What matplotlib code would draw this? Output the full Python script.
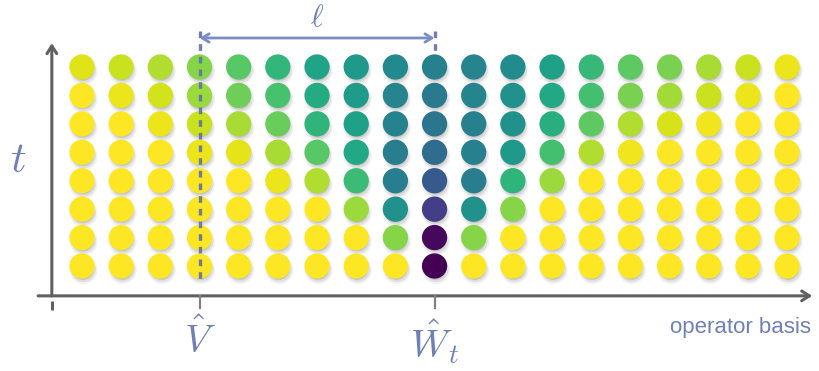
import matplotlib
matplotlib.use('Agg')
import matplotlib.pyplot as plt
import numpy as np
from matplotlib.transforms import offset_copy

plt.rcParams['mathtext.fontset'] = 'cm'

# ---- data -------------------------------------------------------------
operator_index = list(range(19))   # operator basis positions (columns)
time_steps = list(range(8))        # time rows, bottom (0) to top (7)
source_col = 3                     # position of V
probe_col = 9                      # position of W_t

# viridis fraction per cell (0 = dark purple, 1 = yellow), one list per time row
t0 = [1.00, 1.00, 1.00, 1.00, 1.00, 1.00, 1.00, 1.00, 1.00, 0.00, 1.00, 1.00, 1.00, 1.00, 1.00, 1.00, 1.00, 1.00, 1.00]
t1 = [1.00, 1.00, 1.00, 1.00, 1.00, 1.00, 1.00, 1.00, 0.82, 0.02, 0.82, 1.00, 1.00, 1.00, 1.00, 1.00, 1.00, 1.00, 1.00]
t2 = [1.00, 1.00, 1.00, 1.00, 1.00, 1.00, 1.00, 0.85, 0.50, 0.18, 0.50, 0.82, 1.00, 1.00, 1.00, 1.00, 1.00, 1.00, 1.00]
t3 = [1.00, 1.00, 1.00, 1.00, 1.00, 0.97, 0.88, 0.68, 0.42, 0.28, 0.42, 0.65, 0.85, 1.00, 1.00, 1.00, 1.00, 1.00, 1.00]
t4 = [1.00, 1.00, 1.00, 0.97, 0.96, 0.87, 0.74, 0.60, 0.42, 0.35, 0.43, 0.54, 0.70, 0.88, 0.98, 1.00, 1.00, 1.00, 1.00]
t5 = [1.00, 1.00, 0.97, 0.92, 0.87, 0.77, 0.65, 0.57, 0.44, 0.39, 0.43, 0.50, 0.63, 0.75, 0.88, 0.94, 0.98, 1.00, 1.00]
t6 = [1.00, 0.97, 0.93, 0.85, 0.78, 0.71, 0.61, 0.55, 0.45, 0.41, 0.45, 0.50, 0.60, 0.70, 0.80, 0.86, 0.92, 0.97, 1.00]
t7 = [0.95, 0.92, 0.88, 0.82, 0.74, 0.66, 0.58, 0.54, 0.47, 0.43, 0.45, 0.48, 0.57, 0.67, 0.75, 0.80, 0.87, 0.92, 0.97]
rows = [t0, t1, t2, t3, t4, t5, t6, t7]

tick_labels = [r'$\hat{V}$', r'$\hat{W}_t$']
x_label = 'operator basis'
y_label = r'$t$'
ell_label = r'$\ell$'

# ---- figure -----------------------------------------------------------
fig = plt.figure(figsize=(8.2, 3.71), dpi=100)
fig.patch.set_facecolor('white')
ax = fig.add_axes([0, 0, 1, 1])
ax.set_xlim(-2.093, 18.84)
ax.set_ylim(-3.693, 9.356)
ax.axis('off')

X, Y = np.meshgrid(operator_index, time_steps)
V = np.array(rows)

# soft drop shadows
for dx, dy, sz, a in [(1.5, -4.0, 28, 0.05), (1.5, -3.5, 25, 0.08), (1.0, -3.0, 22, 0.10),
                      (1.0, -2.5, 20, 0.10)]:
    tr = offset_copy(ax.transData, fig=fig, x=dx, y=dy, units='dots')
    ax.scatter(X.ravel(), Y.ravel(), s=sz ** 2 * 0.52, color='black', alpha=a,
               edgecolors='none', transform=tr, zorder=1)

ax.scatter(X.ravel(), Y.ravel(), c=V.ravel(), cmap='viridis', vmin=0, vmax=1,
           s=18.2 ** 2, edgecolors='none', zorder=2)

axis_col = '#606060'
blue = '#6f80b6'

# x axis
ax.annotate('', xy=(18.64, -1.05), xytext=(-1.12, -1.05),
            arrowprops=dict(arrowstyle='->,head_length=0.55,head_width=0.35',
                            color=axis_col, lw=2.2, shrinkA=0, shrinkB=0), zorder=3)
# y axis
ax.annotate('', xy=(-0.77, 7.84), xytext=(-0.77, -1.05),
            arrowprops=dict(arrowstyle='->,head_length=0.55,head_width=0.35',
                            color=axis_col, lw=2.2, shrinkA=0, shrinkB=0), zorder=3)
ax.plot([-0.77, -0.77], [-1.22, -1.55], color=axis_col, lw=2.2, solid_capstyle='butt', zorder=3)

# ticks
for c in (source_col, probe_col):
    ax.plot([c, c], [-1.05, -1.48], color='#808080', lw=1.6, zorder=3)

# dashed guide lines
ax.plot([source_col, source_col], [8.25, -0.62], color='#5f71a8', lw=2.4,
        linestyle=(0, (2.0, 1.8)), alpha=0.9, zorder=4)
ax.plot([probe_col, probe_col], [8.25, 7.55], color='#5f71a8', lw=2.4,
        linestyle=(0, (2.0, 1.8)), alpha=0.9, zorder=4)

# ell arrow
ax.annotate('', xy=(probe_col, 8.02), xytext=(source_col, 8.02),
            arrowprops=dict(arrowstyle='<->,head_length=0.5,head_width=0.3',
                            color='#7b8dc3', lw=2.0, shrinkA=0, shrinkB=0), zorder=4)
ax.text((source_col + probe_col) / 2, 8.72, ell_label, fontsize=22, color=blue,
        ha='center', va='center')

# labels
ax.text(-1.63, 3.73, y_label, fontsize=31, color=blue, ha='center', va='center')
ax.text(source_col, -2.6, tick_labels[0], fontsize=28, color=blue, ha='center', va='center')
ax.text(probe_col, -2.66, tick_labels[1], fontsize=28, color=blue, ha='center', va='center')
ax.text(18.6, -2.18, x_label, fontsize=16, color=blue, ha='right', va='center',
        family='Liberation Sans')

fig.savefig('out.png', dpi=100, facecolor='white')
